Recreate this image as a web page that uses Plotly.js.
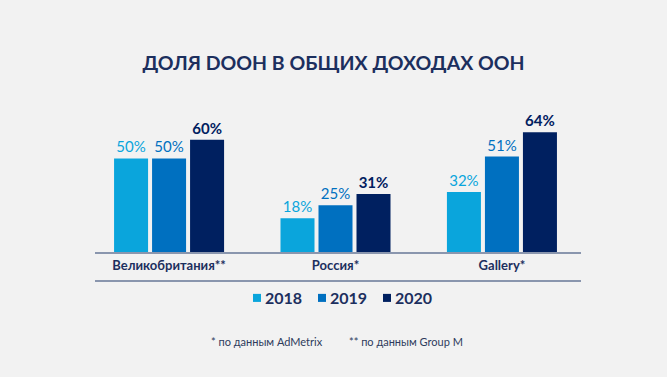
<!DOCTYPE html>
<html>
<head>
<meta charset="utf-8">
<script src="https://cdn.plot.ly/plotly-3.0.1.min.js"></script>
<style>
html,body{margin:0;padding:0;background:#f2f2f2;}
#chart{width:667px;height:377px;}
</style>
</head>
<body>
<div id="chart"></div>
<script>
const categories = ['Великобритания**', 'Россия*', 'Gallery*'];
const years = ['2018', '2019', '2020'];
const share2018 = [50, 18, 32];
const share2019 = [50, 25, 51];
const share2020 = [60, 31, 64];
const footnotes = ['* по данным AdMetrix', '** по данным Group M'];
const chartTitle = 'ДОЛЯ DOOH В ОБЩИХ ДОХОДАХ ООН';

const seriesValues = [share2018, share2019, share2020];
const colors = ['#0aa5dc', '#0070c0', '#002060'];
const weights = ['normal', 'normal', 'bold'];
const navy = '#1c2f5e';

const traces = years.map((y, i) => ({
  type: 'bar',
  name: y,
  x: categories,
  y: seriesValues[i],
  text: seriesValues[i].map(v => v + '%'),
  textposition: 'outside',
  constraintext: 'none',
  cliponaxis: false,
  textfont: {family: 'Lato', size: 15, color: colors[i], weight: weights[i]},
  marker: {color: colors[i], line: {width: 0}},
  hoverinfo: 'skip'
}));

const baseY = 252, plotTop = 121, plotH = baseY - plotTop;
const left = 95, right = 581, plotW = right - left;
const py = px => (baseY - px) / plotH;
const pxX = px => (px - left) / plotW;

const layout = {
  width: 667, height: 377,
  paper_bgcolor: '#f2f2f2', plot_bgcolor: '#f2f2f2',
  margin: {l: left, r: 667 - right, t: plotTop, b: 377 - baseY, pad: 0, autoexpand: false},
  title: {
    text: chartTitle,
    font: {family: 'Lato', size: 19.5, color: navy, weight: 'bold'},
    xref: 'container', x: 0.5, xanchor: 'center',
    yref: 'container', y: 1 - 63 / 377, yanchor: 'middle'
  },
  barmode: 'group',
  bargap: 0.315,
  bargroupgap: 0.105,
  xaxis: {
    type: 'category',
    range: [-0.445, 2.475],
    showline: true, linecolor: '#8a96ae', linewidth: 2,
    ticks: '', showgrid: false, zeroline: false,
    tickangle: 0,
    tickfont: {family: 'Lato', size: 13, color: navy, weight: 'bold'},
    fixedrange: true
  },
  yaxis: {
    range: [0, 70],
    visible: false, showgrid: false, zeroline: false, fixedrange: true
  },
  showlegend: true,
  legend: {
    orientation: 'h',
    x: pxX(225), xref: 'paper', xanchor: 'left',
    y: py(298), yanchor: 'middle',
    entrywidth: 20,
    font: {family: 'Lato', size: 16, color: navy, weight: 'bold'},
    bgcolor: 'rgba(0,0,0,0)',
    itemclick: false, itemdoubleclick: false,
    traceorder: 'normal'
  },
  shapes: [{
    type: 'line', xref: 'paper', yref: 'paper',
    x0: 0, x1: 1, y0: py(281), y1: py(281),
    line: {color: '#8a96ae', width: 2}
  }],
  annotations: [
    {text: footnotes[0], xref: 'paper', yref: 'paper', x: pxX(209), y: py(341),
     xanchor: 'left', yanchor: 'middle', showarrow: false,
     font: {family: 'Lato', size: 11, color: '#2e3b5c'}},
    {text: footnotes[1], xref: 'paper', yref: 'paper', x: pxX(347), y: py(341),
     xanchor: 'left', yanchor: 'middle', showarrow: false,
     font: {family: 'Lato', size: 11, color: '#2e3b5c'}}
  ]
};

Plotly.newPlot('chart', traces, layout, {displayModeBar: false, staticPlot: true}).then(gd => {
  gd.querySelectorAll('.legend .scrollbox').forEach(s => s.removeAttribute('clip-path'));
  gd.querySelectorAll('.legend .legendpoints path').forEach(p => {
    p.setAttribute('transform', 'translate(32,0) scale(0.67)');
  });
});
</script>
</body>
</html>
